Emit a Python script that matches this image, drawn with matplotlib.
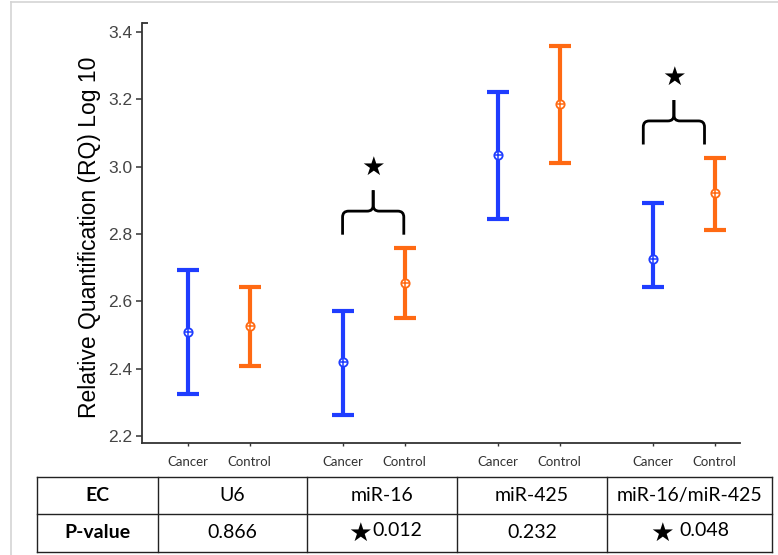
import matplotlib
matplotlib.use("Agg")
import matplotlib.pyplot as plt
import numpy as np
from matplotlib.path import Path
from matplotlib.patches import PathPatch

# ---------------- data ----------------
groups = ["U6", "miR-16", "miR-425", "miR-16/miR-425"]
conditions = ["Cancer", "Control"]
cancer_mean = [2.509, 2.420, 3.035, 2.726]
cancer_low = [2.325, 2.262, 2.845, 2.643]
cancer_high = [2.693, 2.571, 3.222, 2.892]
control_mean = [2.527, 2.654, 3.186, 2.922]
control_low = [2.408, 2.550, 3.011, 2.812]
control_high = [2.643, 2.758, 3.358, 3.026]
p_values = ["0.866", "0.012", "0.232", "0.048"]
significant = [False, True, False, True]
yticks = [2.2, 2.4, 2.6, 2.8, 3.0, 3.2, 3.4]

BLUE = "#1f3dff"
ORANGE = "#ff6a13"

W, H = 778, 555
fig = plt.figure(figsize=(W / 100, H / 100), dpi=100)

def fx(px):
    return px / W

def fy(py):
    return 1 - py / H

ax = fig.add_axes([fx(142), fy(443), fx(740) - fx(142), fy(23) - fy(443)])
ax.set_ylim(2.179, 3.427)
ax.set_xlim(-0.494, 3.364)

off = 0.2
xc = np.arange(len(groups))
x_can = xc - off
x_con = xc + off

for xs, m, lo, hi, col in [(x_can, cancer_mean, cancer_low, cancer_high, BLUE),
                           (x_con, control_mean, control_low, control_high, ORANGE)]:
    m = np.array(m); lo = np.array(lo); hi = np.array(hi)
    ax.errorbar(xs, m, yerr=[m - lo, hi - m], fmt="none", ecolor=col,
                elinewidth=3.0, capsize=8, capthick=3.0, zorder=2)
    ax.plot(xs, m, "o", ms=6.0, mfc="white", mec=col, mew=1.3, zorder=3)
    ax.plot(xs, m, "+", ms=6.0, mec=col, mew=1.1, zorder=4)

# curly braces for significant comparisons
ux = 1 / 155.0
uy = 1.2 / 404.0

def brace(x0, x1, ybot, ymid, ypeak):
    r = 6
    xm = (x0 + x1) / 2
    codes = [Path.MOVETO, Path.LINETO, Path.CURVE3, Path.CURVE3, Path.LINETO,
             Path.CURVE3, Path.CURVE3, Path.LINETO]
    for xe, sgn in ((x0, 1), (x1, -1)):
        v = [
            (xe, ybot), (xe, ymid - r * uy),
            (xe, ymid), (xe + sgn * r * ux, ymid),
            (xm - sgn * r * ux, ymid),
            (xm, ymid), (xm, ymid + r * uy),
            (xm, ypeak),
        ]
        ax.add_patch(PathPatch(Path(v, codes), fill=False, lw=2.0, ec="black",
                               capstyle="butt", joinstyle="round", zorder=5))

for i, sig in enumerate(significant):
    if not sig:
        continue
    top = max(cancer_high[i], control_high[i])
    shift = -0.06 if i == 3 else 0.0
    x0 = x_can[i] + shift
    x1 = x_con[i] - 0.005 + shift
    ybot = top + 0.04
    ymid = ybot + 0.07
    ypeak = ymid + 0.062
    brace(x0, x1, ybot, ymid, ypeak)
    ax.text((x0 + x1) / 2, ypeak + 0.065, "\u2605", ha="center", va="center",
            fontsize=19, family="DejaVu Sans", color="black", zorder=6)

# axes styling
for s in ["top", "right"]:
    ax.spines[s].set_visible(False)
ax.spines["left"].set_color("#333333")
ax.spines["bottom"].set_color("#333333")
ax.spines["left"].set_linewidth(1.3)
ax.spines["bottom"].set_linewidth(1.3)
ax.set_yticks(yticks)
ax.set_yticklabels([f"{v:.1f}" for v in yticks], fontsize=12.5,
                   family="Liberation Sans", color="#444444")
ax.tick_params(axis="y", length=4, width=1.1, color="#333333", pad=3)
xt = np.column_stack([x_can, x_con]).ravel()
ax.set_xticks(xt)
ax.set_xticklabels(conditions * len(groups), fontsize=9.5, family="Lato",
                   color="#333333")
ax.tick_params(axis="x", length=2.5, width=1.0, color="#333333", pad=7)
ax.set_ylabel("Relative Quantification (RQ) Log 10", fontsize=16.5,
              family="Liberation Sans", color="black")
ax.yaxis.set_label_coords(-0.069, 0.49)
# little cap on top of y axis
ax.plot([-0.494, -0.494 + 6 * ux], [3.427, 3.427], color="#333333", lw=1.3,
        clip_on=False, solid_capstyle="butt")

# ---------------- table & frame (pixel overlay) ----------------
ov = fig.add_axes([0, 0, 1, 1], zorder=-1)
ov.set_xlim(0, W)
ov.set_ylim(H, 0)
ov.axis("off")
ov.plot([11, W], [2, 2], color="#d4d4d4", lw=1.2)
ov.plot([11, 11], [2, H], color="#d4d4d4", lw=1.2)

ov2 = fig.add_axes([0, 0, 1, 1], zorder=3)
ov2.set_xlim(0, W)
ov2.set_ylim(H, 0)
ov2.axis("off")
cols = [37, 158, 307, 457, 607, 772]
rows = [477, 514, 552]
for r in rows:
    ov2.plot([cols[0], cols[-1]], [r, r], color="#222222", lw=1.0)
for c in cols:
    ov2.plot([c, c], [rows[0], rows[-1]], color="#222222", lw=1.0)

tfont = ["Lato", "DejaVu Sans"]
FS = 14
ry1 = (rows[0] + rows[1]) / 2
ry2 = (rows[1] + rows[2]) / 2
ov2.text((cols[0] + cols[1]) / 2, ry1, "EC", ha="center", va="center",
         fontsize=FS, fontweight="bold", family=tfont)
ov2.text((cols[0] + cols[1]) / 2, ry2, "P-value", ha="center", va="center",
         fontsize=FS, fontweight="bold", family=tfont)
for i, g in enumerate(groups):
    cx = (cols[i + 1] + cols[i + 2]) / 2
    ov2.text(cx, ry1, g, ha="center", va="center", fontsize=FS, family=tfont)
    if significant[i]:
        gap = 6 if i == 3 else 0
        ov2.text(cx - 10 - gap, ry2 + 1, "\u2605", ha="right", va="center",
                 fontsize=19, family="DejaVu Sans")
        ov2.text(cx - 10, ry2 - 2, p_values[i], ha="left", va="center",
                 fontsize=FS, family=tfont)
    else:
        ov2.text(cx, ry2, p_values[i], ha="center", va="center",
                 fontsize=FS, family=tfont)

fig.savefig("out.png", dpi=100)
